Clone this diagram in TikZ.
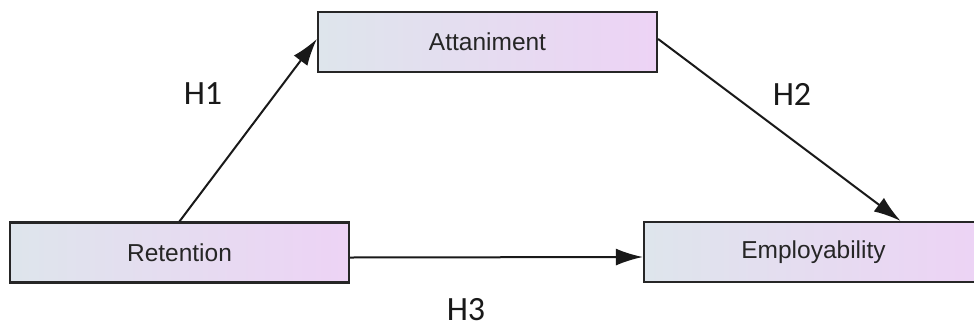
\documentclass[tikz,border=0pt]{standalone}
\usepackage{fontspec}
\setmainfont{Liberation Sans}
\newfontfamily\hypfont{Carlito}
\usetikzlibrary{arrows.meta}

\definecolor{boxleft}{RGB}{222,229,236}
\definecolor{boxright}{RGB}{237,211,245}

\begin{document}
\begin{tikzpicture}[x=1pt,y=-1pt,
    boxnode/.style={rectangle, draw=black!85, line width=2.2pt, left color=boxleft, right color=boxright, minimum width=339pt, minimum height=60pt, inner sep=0pt, text=black!85, font=\fontsize{24.5}{29}\selectfont},
    hlabel/.style={text=black!90, inner sep=0pt, font=\hypfont\fontsize{34}{40}\selectfont},
    link/.style={-{Latex[length=27pt,width=17pt]}, line width=2pt, black!90}
    ]
    \useasboundingbox (0,0) rectangle (974,330);
    \fill[white] (0,0) rectangle (974,330);

    \node [boxnode] (att) at (487.5, 42) {Attaniment};
    \node [boxnode] (ret) at (179.5,252.5) {Retention};
    \node [boxnode] (emp) at (813.5,252) {Employability};

    \node [hlabel] (h1) at (203, 94) {H1};
    \node [hlabel] (h2) at (792, 94) {H2};
    \node [hlabel] (h3) at (466,310) {H3};

    \draw [link] (ret.north) -- ([yshift=3pt]att.west);
    \draw [link] ([yshift=3pt]att.east) -- ([xshift=87pt]emp.north);
    \draw [link] ([yshift=-5pt]ret.east) -- ([yshift=-5pt]emp.west);
  \end{tikzpicture}
\end{document}
